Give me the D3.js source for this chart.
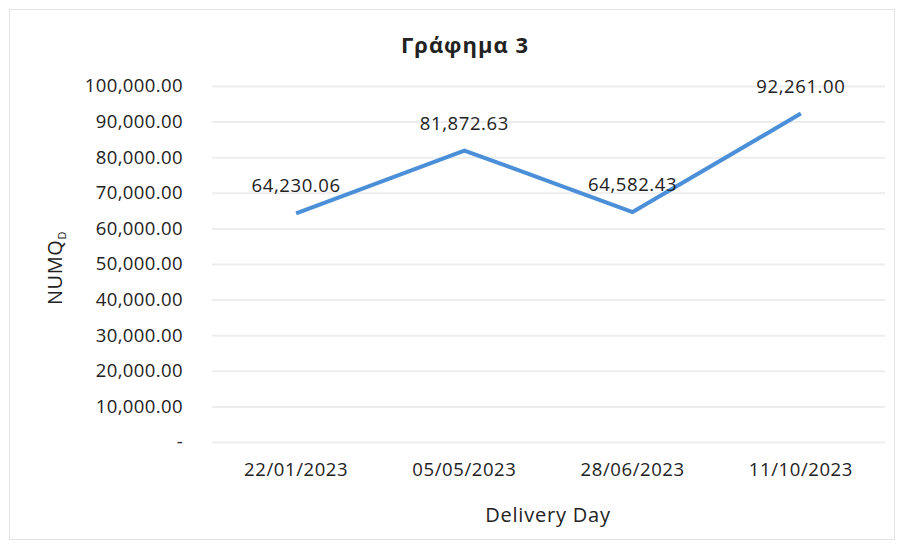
<!DOCTYPE html>
<meta charset="utf-8">
<style>
    body { margin: 0; background: #fff; }
    text { font-family: "Open Sans", "Liberation Sans", sans-serif; fill: #222; }
</style>
<body>
<script src="https://d3js.org/d3.v7.min.js"></script>
<script>

    var dates = ['22/01/2023', '05/05/2023', '28/06/2023', '11/10/2023'];
    var values = [64230.06, 81872.63, 64582.43, 92261.00];
    var yTicks = [0, 10000, 20000, 30000, 40000, 50000, 60000, 70000, 80000, 90000, 100000];

    var width = 900, height = 546;
    var margin = {top: 86, right: 15, bottom: 104, left: 212};

    var svg = d3.select('body').append('svg')
        .attr('width', width)
        .attr('height', height);

    // outer frame
    svg.append('rect')
        .attr('x', 9.5).attr('y', 9.5)
        .attr('width', 885).attr('height', 530)
        .attr('fill', 'none')
        .attr('stroke', '#e4e4e4');

    var x = d3.scaleBand()
        .domain(dates)
        .range([margin.left, width - margin.right]);

    var y = d3.scaleLinear()
        .domain([0, 100000])
        .range([height - margin.bottom, margin.top]);

    var fmt = d3.format(',.2f');

    // gridlines
    svg.append('g')
        .selectAll('line')
        .data(yTicks)
        .enter()
        .append('line')
        .attr('x1', margin.left)
        .attr('x2', width - margin.right)
        .attr('y1', function(d) { return y(d) + 0.5; })
        .attr('y2', function(d) { return y(d) + 0.5; })
        .attr('stroke', '#ededed')
        .attr('stroke-width', 2);

    // y axis
    var yAxis = svg.append('g')
        .attr('transform', 'translate(' + (margin.left - 26) + ',0)')
        .call(d3.axisLeft(y).tickValues(yTicks).tickSize(0)
            .tickFormat(function(d) { return d === 0 ? '-' : fmt(d); }));
    yAxis.select('.domain').remove();
    yAxis.selectAll('text')
        .style('font-size', '18.5px')
        .style('font-family', '"Open Sans", sans-serif')
        .style('letter-spacing', '0.4px')
        .attr('fill', '#222');

    // x axis
    var xAxis = svg.append('g')
        .attr('transform', 'translate(0,' + (height - margin.bottom + 18) + ')')
        .call(d3.axisBottom(x).tickSize(0));
    xAxis.select('.domain').remove();
    xAxis.selectAll('text')
        .style('font-size', '18.5px')
        .style('font-family', '"Open Sans", sans-serif')
        .style('letter-spacing', '0.6px')
        .attr('fill', '#222');

    // line
    var line = d3.line()
        .x(function(d, i) { return x(dates[i]) + x.bandwidth() / 2; })
        .y(function(d) { return y(d); });

    svg.append('path')
        .datum(values)
        .attr('d', line)
        .attr('fill', 'none')
        .attr('stroke', '#4a8fd8')
        .attr('stroke-width', 4)
        .attr('stroke-linejoin', 'round');

    // data labels
    svg.append('g')
        .selectAll('text')
        .data(values)
        .enter()
        .append('text')
        .attr('x', function(d, i) { return x(dates[i]) + x.bandwidth() / 2; })
        .attr('y', function(d) { return y(d) - 21; })
        .attr('text-anchor', 'middle')
        .style('font-size', '18.5px')
        .style('letter-spacing', '0.6px')
        .text(function(d) { return fmt(d); });

    // title
    svg.append('text')
        .attr('x', 465)
        .attr('y', 53)
        .attr('text-anchor', 'middle')
        .style('font-size', '22px')
        .style('font-weight', 'bold')
        .style('letter-spacing', '1px')
        .text('Γράφημα 3');

    // axis titles
    svg.append('text')
        .attr('x', 548)
        .attr('y', 522)
        .attr('text-anchor', 'middle')
        .style('font-size', '20px')
        .style('letter-spacing', '0.8px')
        .text('Delivery Day');

    var yt = svg.append('text')
        .attr('transform', 'translate(62,' + 268 + ') rotate(-90)')
        .attr('text-anchor', 'middle')
        .style('font-size', '20px')
        .style('letter-spacing', '0.6px');
    yt.append('tspan').text('NUMQ');
    yt.append('tspan').attr('dy', 4).style('font-size', '11px').text('D');

</script>
</body>
